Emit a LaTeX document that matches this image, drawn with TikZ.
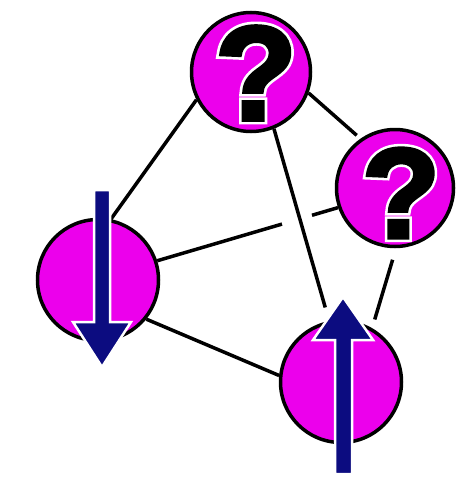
\documentclass[tikz,border=0pt]{standalone}
\usepackage{fontspec}
\setmainfont{Liberation Sans}
\newfontfamily\qblack[FakeBold=3]{Liberation Sans Bold}
\newfontfamily\qwhite[FakeBold=7]{Liberation Sans Bold}
\usetikzlibrary{calc,backgrounds}
\definecolor{mag}{RGB}{236,0,236}
\definecolor{navy}{RGB}{12,12,128}
\begin{document}
\begin{tikzpicture}[x=1pt,y=-1pt,
  ball/.style={circle, draw=black, line width=3.5pt, fill=mag, inner sep=0pt, minimum size=#1},
  link/.style={line width=3.5pt, draw=black},
  spin/.style={fill=navy, draw=white, line width=2.5pt, line join=miter},
  qm/.style={inner sep=0pt},
]
\useasboundingbox (0,0) rectangle (464,479);

% spheres
\node[ball=119pt] (T) at (251,72) {};
\node[ball=117pt] (R) at (395,188) {};
\node[ball=121pt] (L) at (98,280) {};
\node[ball=121pt] (B) at (341,382) {};

% connectors
\begin{pgfonlayer}{background}
\fill[white] (0,0) rectangle (464,479);
\draw[link] (T.207) -- (L.78);
\draw[link, shorten >=5pt] (T.340) -- (R.125);
\draw[link, shorten >=14pt] (T.292) -- (B.101);
\draw[link] (L.18) -- ($(L.18)!0.69!(R.199)$);
\draw[link] ($(L.18)!0.856!(R.199)$) -- (R.199);
\draw[link] (L.321) -- (B.174);
\draw[link, shorten <=12pt, shorten >=9pt] (R.271) -- (B.60);
\end{pgfonlayer}

% question marks with white outline
\node[qm, text=white, font=\qwhite\fontsize{134}{134}\selectfont] (qTw) at (256,73) {?};
\node[qm, font=\qblack\fontsize{134}{134}\selectfont] (qT) at (qTw) {?};
\node[qm, text=white, font=\qwhite\fontsize{128}{128}\selectfont] (qRw) at (401,193) {?};
\node[qm, font=\qblack\fontsize{128}{128}\selectfont] (qR) at (qRw) {?};

% spin arrows
\draw[spin] (94,190) -- (110,190) -- (110,322) -- (131,322) -- (102,367)
  -- (73,322) -- (94,322) -- cycle;
\draw[spin] (335,474) -- (352,474) -- (352,340) -- (373,340) -- (343,297)
  -- (313,340) -- (335,340) -- cycle;
\end{tikzpicture}
\end{document}
